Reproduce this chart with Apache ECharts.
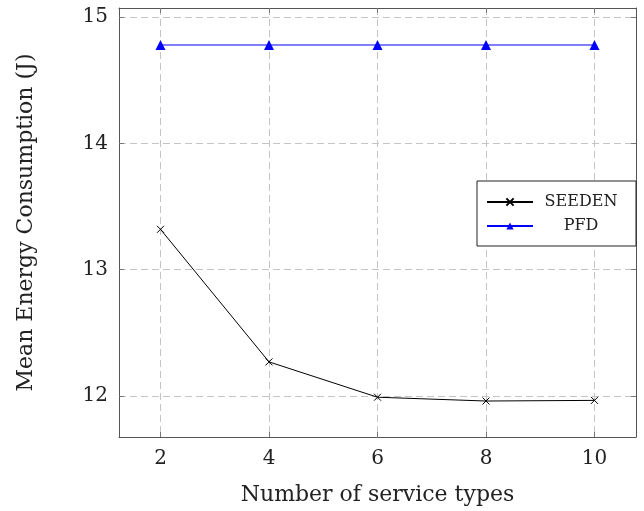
<!DOCTYPE html>
<html>
<head>
<meta charset="utf-8">
<script src="https://cdn.jsdelivr.net/npm/echarts@6/dist/echarts.min.js"></script>
<style>html,body{margin:0;padding:0;background:#fff}#c{width:644px;height:511px}</style>
</head>
<body>
<div id="c"></div>
<script>
const xValues = [2, 4, 6, 8, 10];
const seeden = [13.32, 12.27, 11.99, 11.96, 11.965];
const pfd = [14.78, 14.78, 14.78, 14.78, 14.78];
const xTicks = [2, 4, 6, 8, 10];
const yTicks = [12, 13, 14, 15];
const xTitle = 'Number of service types';
const yTitle = 'Mean Energy Consumption (J)';

const FONT = 'DejaVu Serif';
const chart = echarts.init(document.getElementById('c'));
const gridLine = { show: true, lineStyle: { color: '#c4c4c4', type: [7, 4], width: 1 } };
const axisLn = { show: true, onZero: false, lineStyle: { color: '#555', width: 1 } };
const tickStyle = { show: true, inside: true, length: 5, lineStyle: { color: '#777', width: 1 } };

const xBase = { type: 'value', min: 1.235, max: 10.765, axisLine: axisLn };
const yBase = { type: 'value', min: 11.675, max: 15.073, axisLine: axisLn };

chart.setOption({
  animation: false,
  grid: { left: 119, right: 8, top: 8, bottom: 72, containLabel: false },
  xAxis: [
    Object.assign({}, xBase, {
      position: 'bottom',
      name: xTitle, nameLocation: 'middle', nameGap: 47,
      nameTextStyle: { fontFamily: FONT, fontSize: 22, color: '#222' },
      axisTick: Object.assign({ customValues: xTicks }, tickStyle),
      axisLabel: { customValues: xTicks, fontFamily: FONT, fontSize: 20, color: '#222', margin: 12 },
      splitLine: gridLine
    }),
    Object.assign({}, xBase, {
      position: 'top',
      axisTick: Object.assign({ customValues: xTicks }, tickStyle),
      axisLabel: { show: false, customValues: xTicks },
      splitLine: { show: false }
    })
  ],
  yAxis: [
    Object.assign({}, yBase, {
      position: 'left',
      name: yTitle, nameLocation: 'middle', nameGap: 82, nameRotate: 90,
      nameTextStyle: { fontFamily: FONT, fontSize: 22, color: '#222' },
      axisTick: Object.assign({ customValues: yTicks }, tickStyle),
      axisLabel: { customValues: yTicks, fontFamily: FONT, fontSize: 20, color: '#222', margin: 11 },
      splitLine: gridLine
    }),
    Object.assign({}, yBase, {
      position: 'right',
      axisTick: Object.assign({ customValues: yTicks }, tickStyle),
      axisLabel: { show: false, customValues: yTicks },
      splitLine: { show: false }
    })
  ],
  legend: {
    orient: 'vertical',
    right: 8, top: 181,
    backgroundColor: '#fff',
    borderColor: '#222', borderWidth: 1, borderRadius: 0,
    padding: [13, 12, 12, 9],
    itemWidth: 46, itemHeight: 9, itemGap: 8,
    formatter: '{a|{name}}',
    textStyle: {
      fontFamily: FONT, fontSize: 16, color: '#222',
      rich: { a: { width: 86, align: 'center', lineHeight: 16, fontFamily: FONT, fontSize: 16, color: '#222' } }
    },
    data: ['SEEDEN', 'PFD']
  },
  series: [
    {
      name: 'SEEDEN', type: 'line',
      data: xValues.map((x, i) => [x, seeden[i]]),
      symbol: 'path://M0,0L10,10M10,0L0,10', symbolSize: 7,
      showAllSymbol: true,
      lineStyle: { color: '#000', width: 1 },
      itemStyle: { color: 'none', borderColor: '#000', borderWidth: 1 }
    },
    {
      name: 'PFD', type: 'line',
      data: xValues.map((x, i) => [x, pfd[i]]),
      symbol: 'triangle', symbolSize: 10,
      showAllSymbol: true,
      lineStyle: { color: '#0000ff', width: 1 },
      itemStyle: { color: '#0000ff' }
    }
  ]
});
</script>
</body>
</html>
